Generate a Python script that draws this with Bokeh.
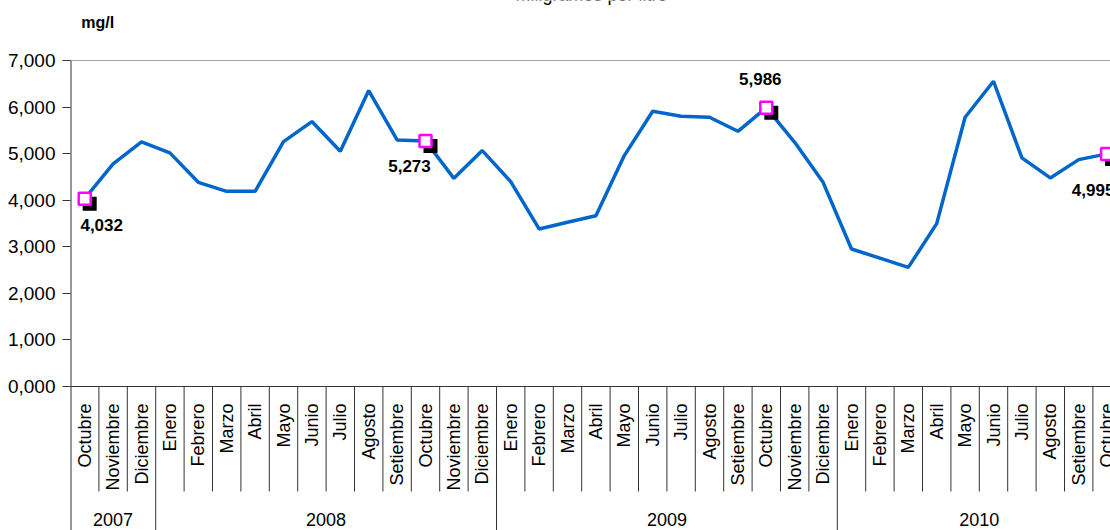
import math
from bokeh.plotting import figure
from bokeh.layouts import column
from bokeh.models import FixedTicker, Range1d
from bokeh.core.properties import value
from bokeh.embed import file_html
from bokeh.resources import INLINE

# ---------------- data ----------------
months = ["Octubre", "Noviembre", "Diciembre",
          "Enero", "Febrero", "Marzo", "Abril", "Mayo", "Junio", "Julio",
          "Agosto", "Setiembre", "Octubre", "Noviembre", "Diciembre",
          "Enero", "Febrero", "Marzo", "Abril", "Mayo", "Junio", "Julio",
          "Agosto", "Setiembre", "Octubre", "Noviembre", "Diciembre",
          "Enero", "Febrero", "Marzo", "Abril", "Mayo", "Junio", "Julio",
          "Agosto", "Setiembre", "Octubre"]
years = ["2007", "2008", "2009", "2010"]
year_counts = [3, 12, 12, 10]
values = [4032, 4780, 5252, 5016, 4384, 4191, 4191, 5259, 5689, 5050,
          6355, 5295, 5273, 4470, 5066, 4400, 3383, 3526, 3668, 4958,
          5910, 5803, 5781, 5480, 5986, 5244, 4384, 2953, 2755, 2558,
          3497, 5781, 6555, 4909, 4479, 4872, 4995]
highlight_idx = [0, 12, 24, 36]
y_ticks = [0, 1000, 2000, 3000, 4000, 5000, 6000, 7000]
y_tick_labels = ["0,000", "1,000", "2,000", "3,000", "4,000", "5,000", "6,000", "7,000"]
unit_label = "mg/l"
title_text = "Miligramos por litro"

# ---------------- layout constants ----------------
W = 1110
TOP_H = 45
H = 530 - TOP_H
LEFT = 70
ZERO_Y = 386 - TOP_H            # pixel row of value 0 inside main figure
PX_PER_1000 = 46.57
px_y = PX_PER_1000 / 1000.0
px_x = 28.4
X0 = -0.5
X1 = X0 + (W - LEFT) / px_x
Y1 = ZERO_Y / px_y
Y0 = -(H - ZERO_Y) / px_y
FONT = "Liberation Sans"

# ---------------- header strip (unit + cropped title) ----------------
top = figure(width=W, height=TOP_H, output_backend="svg", toolbar_location=None,
             x_range=Range1d(0, W), y_range=Range1d(TOP_H, 0),
             x_axis_location=None, y_axis_location=None,
             min_border=0, min_border_left=0, min_border_right=0,
             min_border_top=0, min_border_bottom=0)
top.grid.visible = False
top.outline_line_color = None
top.text(x=[29], y=[22], text=[unit_label], text_align="center", text_baseline="middle",
         text_font=value(FONT), text_font_size="16px", text_font_style="bold",
         text_color="black")
top.text(x=[556], y=[4], text=[title_text], text_align="center", text_baseline="bottom",
         text_font=value(FONT), text_font_size="18px", text_color="black")

# ---------------- main chart ----------------
p = figure(width=W, height=H, output_backend="svg", toolbar_location=None,
           x_range=Range1d(X0, X1), y_range=Range1d(Y0, Y1),
           x_axis_location=None, min_border_left=LEFT, min_border_right=0,
           min_border_top=0, min_border_bottom=0)
p.grid.visible = False
p.outline_line_color = None

ax = p.yaxis[0]
ax.ticker = FixedTicker(ticks=y_ticks)
ax.major_label_overrides = {t: l for t, l in zip(y_ticks, y_tick_labels)}
ax.axis_line_color = None
ax.major_tick_out = 8
ax.major_tick_in = 0
ax.minor_tick_line_color = None
ax.major_tick_line_color = "#333333"
ax.major_label_text_font = FONT
ax.major_label_text_font_size = "19px"
ax.major_label_text_color = "black"
ax.major_label_standoff = 7

n = len(values)
idx = list(range(n))

# top grid line, baseline and left border
p.segment(x0=[X0], y0=[y_ticks[-1]], x1=[n], y1=[y_ticks[-1]], line_color="#a0a0a0", line_width=1)
p.segment(x0=[X0], y0=[y_ticks[0]], x1=[n], y1=[y_ticks[0]], line_color="#333333", line_width=1)
p.segment(x0=[X0], y0=[y_ticks[-1]], x1=[X0], y1=[Y0], line_color="#333333", line_width=2)

# category separators
month_sep_bottom = -(491 - 386) / px_y
year_bounds = []
acc = 0
for c in year_counts:
    acc += c
    year_bounds.append(acc - 0.5)
mx, my1 = [], []
for i in range(n):
    b = i + 0.5
    mx.append(b)
    my1.append(Y0 if b in year_bounds else month_sep_bottom)
p.segment(x0=mx, y0=[0] * len(mx), x1=mx, y1=my1, line_color="#333333", line_width=1)

# month labels
p.text(x=idx, y=[-(403 - 386) / px_y] * n, text=months, angle=math.pi / 2,
       text_align="right", text_baseline="middle", text_font=value(FONT),
       text_font_size="18px", text_color="black")

# year labels
centers = []
start = 0
for c in year_counts:
    centers.append(start + (c - 1) / 2)
    start += c
p.text(x=centers, y=[-(519 - 386) / px_y] * len(years), text=years,
       text_align="center", text_baseline="middle", text_font=value(FONT),
       text_font_size="18px", text_color="black")

# series
p.line(x=idx, y=values, line_color="#0066CC", line_width=3.5)

hx = [idx[i] for i in highlight_idx]
hy = [values[i] for i in highlight_idx]
p.scatter(x=[x + 5 / px_x for x in hx], y=[y - 5 / px_y for y in hy], marker="square",
          size=14, fill_color="black", line_color=None)
p.scatter(x=hx, y=hy, marker="square", size=12, fill_color="white",
          line_color="#FF00FF", line_width=2.5)
p.text(x=hx, y=hy, text=[f"{v:,}" for v in hy],
       x_offset=[17, -16, -6, -14], y_offset=[26, 25, -29, 36],
       text_align="center", text_baseline="middle", text_font=value(FONT),
       text_font_size="17px", text_font_style="bold", text_color="black")

layout = column(top, p, spacing=0)
open("out.html", "w").write(file_html(layout, INLINE))
